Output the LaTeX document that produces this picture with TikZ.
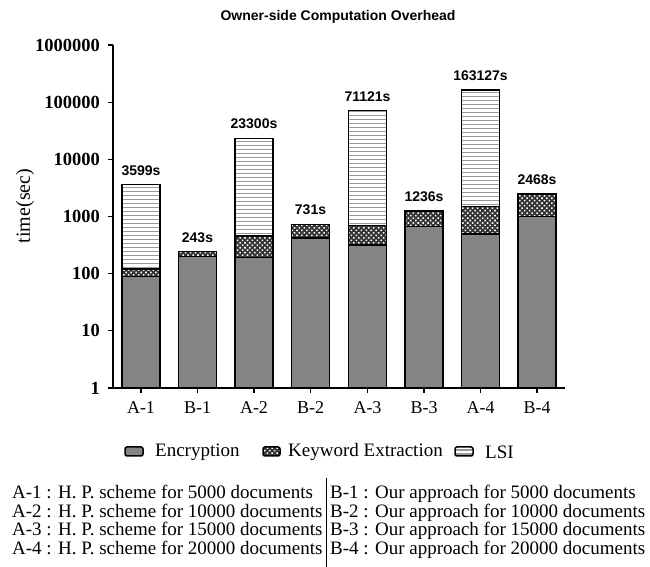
\documentclass[tikz,border=0pt]{standalone}
\usepackage{fontspec}
\setmainfont{Liberation Serif}
\newfontfamily\arialfont{Liberation Sans}
\usetikzlibrary{patterns.meta}
\tikzset{enc/.style = {draw, line width=1.5pt, preaction={fill=black!45}, pattern={Dots[distance=2pt, radius=0.45pt]}, pattern color=black!80},
           kw/.style = {draw, line width=1.5pt, preaction={fill=black!80}, pattern={Dots[distance=3.5pt, radius=1.1pt, angle=45]}, pattern color=white},
           lsi/.style = {draw, line width=1.5pt, fill=white,
             path picture={\foreach \k in {1,...,60} \draw[black!40, line width=1.2pt]
               ([yshift=\k*4pt-2pt]path picture bounding box.south west) -- ([yshift=\k*4pt-2pt]path picture bounding box.south east);}},
           val/.style = {font=\arialfont\bfseries\fontsize{14}{14}\selectfont, anchor=south, inner sep=0pt, yshift=9pt},
           ylab/.style = {font=\bfseries\fontsize{18.5}{18.5}\selectfont, anchor=east, inner sep=0pt},
           xlab/.style = {font=\fontsize{18}{18}\selectfont, inner sep=0pt, yshift=-20pt},
           leg/.style = {font=\fontsize{19}{19}\selectfont, anchor=west, inner sep=0pt},
           note/.style = {font=\fontsize{19}{19}\selectfont, anchor=base west, inner sep=0pt},
           axis/.style = {line width=1.2pt}}
\begin{document}
\begin{tikzpicture}[x=1pt, y=1pt]
  \useasboundingbox (0,0) rectangle (650,567);
  \node[font=\arialfont\bfseries\fontsize{14}{14}\selectfont] (title) at (338,550) {Owner-side Computation Overhead};
  \node[rotate=90, font=\fontsize{20}{20}\selectfont] (ylabel) at (25,361) {time(sec)};

  \begin{scope}[shift={(113,179)}, y=57.17pt]
    % axes
    \coordinate (o) at (0,0); \coordinate (ytop) at (0,6); \coordinate (xend) at (452,0);
    \draw[axis] (ytop) -- (o) -- (xend);
    \foreach \e in {0,...,6} \draw[axis] (0,\e) -- ++(-5pt,0);
    \node[ylab] (y0) at (-13,0) {1};       \node[ylab] (y1) at (-13,1) {10};
    \node[ylab] (y2) at (-13,2) {100};     \node[ylab] (y3) at (-13,3) {1000};
    \node[ylab] (y4) at (-13,4) {10000};   \node[ylab] (y5) at (-13,5) {100000};
    \node[ylab] (y6) at (-13,6) {1000000};

    % A-1
    \draw[enc] (9,0) rectangle (47,{log10(89)});
    \draw[kw]  (9,{log10(89)}) rectangle (47,{log10(120)});
    \draw[lsi] (9,{log10(120)}) rectangle (47,{log10(3599)});
    \node[val] (va1) at (28,{log10(3599)}) {3599s};
    % B-1
    \draw[enc] (65.5,0) rectangle (103.5,{log10(199)});
    \draw[kw]  (65.5,{log10(199)}) rectangle (103.5,{log10(243)});
    \node[val] (vb1) at (84.5,{log10(243)}) {243s};
    % A-2
    \draw[enc] (122,0) rectangle (160,{log10(190)});
    \draw[kw]  (122,{log10(190)}) rectangle (160,{log10(460)});
    \draw[lsi] (122,{log10(460)}) rectangle (160,{4+log10(2.33)});
    \node[val] (va2) at (141,{4+log10(2.33)}) {23300s};
    % B-2
    \draw[enc] (178.5,0) rectangle (216.5,{log10(418)});
    \draw[kw]  (178.5,{log10(418)}) rectangle (216.5,{log10(731)});
    \node[val] (vb2) at (197.5,{log10(731)}) {731s};
    % A-3
    \draw[enc] (235.5,0) rectangle (273.5,{log10(318)});
    \draw[kw]  (235.5,{log10(318)}) rectangle (273.5,{log10(700)});
    \draw[lsi] (235.5,{log10(700)}) rectangle (273.5,{4+log10(7.1121)});
    \node[val] (va3) at (254.5,{4+log10(7.1121)}) {71121s};
    % B-3
    \draw[enc] (292,0) rectangle (330,{log10(668)});
    \draw[kw]  (292,{log10(668)}) rectangle (330,{log10(1236)});
    \node[val] (vb3) at (311,{log10(1236)}) {1236s};
    % A-4
    \draw[enc] (348.5,0) rectangle (386.5,{log10(490)});
    \draw[kw]  (348.5,{log10(490)}) rectangle (386.5,{log10(1500)});
    \draw[lsi] (348.5,{log10(1500)}) rectangle (386.5,{5+log10(1.63127)});
    \node[val] (va4) at (367.5,{5+log10(1.63127)}) {163127s};
    % B-4
    \draw[enc] (405,0) rectangle (443,{log10(1000)});
    \draw[kw]  (405,{log10(1000)}) rectangle (443,{log10(2468)});
    \node[val] (vb4) at (424,{log10(2468)}) {2468s};

    \foreach \c in {28,84.5,141,197.5,254.5,311,367.5,424} \draw[axis] (\c,0) -- ++(0,-5pt);
    \node[xlab] (la1) at (28,0) {A-1};    \node[xlab] (lb1) at (84.5,0) {B-1};
    \node[xlab] (la2) at (141,0) {A-2};   \node[xlab] (lb2) at (197.5,0) {B-2};
    \node[xlab] (la3) at (254.5,0) {A-3}; \node[xlab] (lb3) at (311,0) {B-3};
    \node[xlab] (la4) at (367.5,0) {A-4}; \node[xlab] (lb4) at (424,0) {B-4};
  \end{scope}

  % legend
  \draw[enc, rounded corners=2pt] (125,111) rectangle (143,120);
  \node[leg] (lenc) at (155,115) {Encryption};
  \draw[kw, rounded corners=2pt] (263,111) rectangle (280,120);
  \node[leg] (lkw) at (288,115) {Keyword Extraction};
  \draw[lsi, rounded corners=2pt] (455,111) rectangle (473,120);
  \node[leg] (llsi) at (485,115) {LSI};

  % notes
  \node[note] (na1) at (12,68)   {A-1 : H. P. scheme for 5000 documents};
  \node[note] (na2) at (12,49.5) {A-2 : H. P. scheme for 10000 documents};
  \node[note] (na3) at (12,31)   {A-3 : H. P. scheme for 15000 documents};
  \node[note] (na4) at (12,12.5) {A-4 : H. P. scheme for 20000 documents};
  \node[note] (nb1) at (330,68)   {B-1 : Our approach for 5000 documents};
  \node[note] (nb2) at (330,49.5) {B-2 : Our approach for 10000 documents};
  \node[note] (nb3) at (330,31)   {B-3 : Our approach for 15000 documents};
  \node[note] (nb4) at (330,12.5) {B-4 : Our approach for 20000 documents};
  \coordinate (st) at (326,89); \coordinate (sb) at (326,0);
  \draw[line width=0.8pt] (st) -- (sb);
\end{tikzpicture}
\end{document}
